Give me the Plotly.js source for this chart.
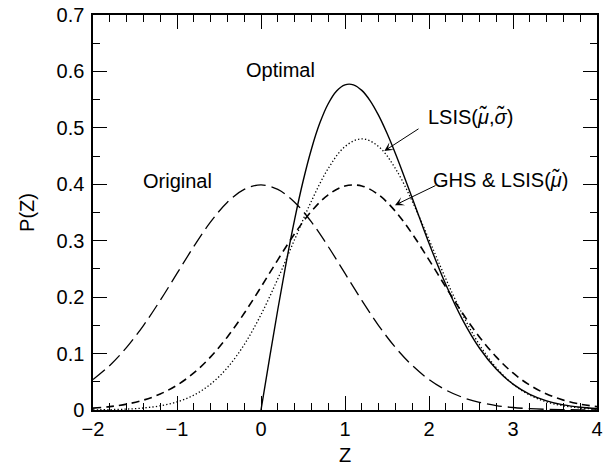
<!DOCTYPE html>
<html>
<head>
<meta charset="utf-8">
<script src="https://cdn.plot.ly/plotly-3.0.1.min.js"></script>
<style>html,body{margin:0;padding:0;background:#fff}#chart{width:607px;height:466px}</style>
</head>
<body>
<div id="chart"></div>
<script>
// Z grid for the Gaussian curves
const zGrid = [-2,-1.8,-1.6,-1.4,-1.2,-1,-0.8,-0.6,-0.4,-0.2,0,0.2,0.4,0.6,0.8,1,1.2,1.4,1.6,1.8,2,2.2,2.4,2.6,2.8,3,3.2,3.4,3.6,3.8,4];
const originalP = [0.0540,0.0790,0.1109,0.1497,0.1942,0.2420,0.2897,0.3332,0.3683,0.3910,0.3989,0.3910,0.3683,0.3332,0.2897,0.2420,0.1942,0.1497,0.1109,0.0790,0.0540,0.0355,0.0224,0.0136,0.0079,0.0044,0.0024,0.0012,0.0006,0.0003,0.0001];
const ghsP = [0.0033,0.0060,0.0104,0.0175,0.0283,0.0440,0.0656,0.0941,0.1295,0.1714,0.2179,0.2661,0.3123,0.3521,0.3814,0.3970,0.3970,0.3814,0.3521,0.3123,0.2661,0.2179,0.1714,0.1295,0.0941,0.0656,0.0440,0.0283,0.0175,0.0104,0.0060];
const lsisP = [0.0003,0.0007,0.0016,0.0036,0.0074,0.0143,0.0263,0.0458,0.0750,0.1158,0.1690,0.2325,0.3020,0.3701,0.4279,0.4669,0.4806,0.4669,0.4279,0.3701,0.3020,0.2325,0.1690,0.1158,0.0750,0.0458,0.0263,0.0143,0.0074,0.0036,0.0016];
// Optimal curve (starts at Z = 0)
const zOpt = [0,0.1,0.2,0.3,0.4,0.5,0.6,0.7,0.8,0.9,1.0,1.1,1.2,1.3,1.4,1.5,1.6,1.7,1.8,1.9,2.0,2.2,2.4,2.6,2.8,3.0,3.2,3.4,3.6,3.8,4.0];
const optimalP = [0,0.0903,0.1781,0.2612,0.3374,0.4049,0.4622,0.5084,0.5428,0.5654,0.5763,0.5763,0.5664,0.5479,0.5220,0.4903,0.4545,0.4157,0.3757,0.3352,0.2955,0.2223,0.1598,0.1099,0.0726,0.0459,0.0279,0.0163,0.0091,0.0049,0.0026];

const xTicks = [-2,-1,0,1,2,3,4];
const xTickText = ['\u22122','\u22121','0','1','2','3','4'];
const yTicks = [0,0.1,0.2,0.3,0.4,0.5,0.6,0.7];
const yTickText = ['0','0.1','0.2','0.3','0.4','0.5','0.6','0.7'];

const FONT = 'Liberation Sans, Arial, Helvetica, sans-serif';
const FS = 20;

const traces = [
  {x: zGrid, y: originalP, mode:'lines', line:{color:'#000', width:1.3, dash:'15px,6px', shape:'spline'}, hoverinfo:'skip'},
  {x: zGrid, y: ghsP, mode:'lines', line:{color:'#000', width:1.6, dash:'8px,5px', shape:'spline'}, hoverinfo:'skip'},
  {x: zGrid, y: lsisP, mode:'lines', line:{color:'#000', width:1.3, dash:'1.3px,2.2px', shape:'spline'}, hoverinfo:'skip'},
  {x: zOpt, y: optimalP, mode:'lines', line:{color:'#000', width:1.4, shape:'spline'}, hoverinfo:'skip'}
];

const axisCommon = {
  showgrid:false, zeroline:false, showline:true, linecolor:'#000', linewidth:1.6,
  mirror:'allticks', ticks:'inside', tickcolor:'#000', tickwidth:1, ticklen:14,
  tickfont:{family:FONT, size:FS, color:'#000'}
};

const layout = {
  width:607, height:466,
  margin:{l:93, r:10, t:15, b:56},
  paper_bgcolor:'#fff', plot_bgcolor:'#fff',
  showlegend:false,
  xaxis: Object.assign({}, axisCommon, {
    range:[-2,4], tickvals:xTicks, ticktext:xTickText,
    minor:{dtick:0.2, ticks:'inside', ticklen:7, tickwidth:1, tickcolor:'#000'},
    title:{text:'Z', font:{family:FONT, size:FS, color:'#000'}, standoff:16}
  }),
  yaxis: Object.assign({}, axisCommon, {
    range:[0,0.7], tickvals:yTicks, ticktext:yTickText, ticklabelstandoff:3,
    minor:{dtick:0.05, ticks:'inside', ticklen:7, tickwidth:1, tickcolor:'#000'},
    title:{text:'P(Z)', font:{family:FONT, size:FS, color:'#000'}, standoff:16}
  }),
  annotations:[
    {x:0.23, y:0.603, xref:'x', yref:'y', text:'Optimal', showarrow:false, font:{family:FONT, size:FS, color:'#000'}},
    {x:-0.99, y:0.406, xref:'x', yref:'y', text:'Original', showarrow:false, font:{family:FONT, size:FS, color:'#000'}},
    {x:1.97, y:0.52, xref:'x', yref:'y', xanchor:'left', text:'LSIS(<i>μ\u0303</i>,<i>σ\u0303</i>)', showarrow:false, font:{family:FONT, size:FS, color:'#000'}},
    {x:2.02, y:0.408, xref:'x', yref:'y', xanchor:'left', text:'GHS &amp; LSIS(<i>μ\u0303</i>)', showarrow:false, font:{family:FONT, size:FS, color:'#000'}},
    {x:1.468, y:0.459, xref:'x', yref:'y', ax:1.893, ay:0.50, axref:'x', ayref:'y', text:'', showarrow:true, arrowhead:3, arrowsize:1.5, arrowwidth:1, arrowcolor:'#000'},
    {x:1.595, y:0.363, xref:'x', yref:'y', ax:2.095, ay:0.399, axref:'x', ayref:'y', text:'', showarrow:true, arrowhead:3, arrowsize:1.5, arrowwidth:1, arrowcolor:'#000'}
  ]
};

Plotly.newPlot('chart', traces, layout, {displayModeBar:false, staticPlot:true});
</script>
</body>
</html>
